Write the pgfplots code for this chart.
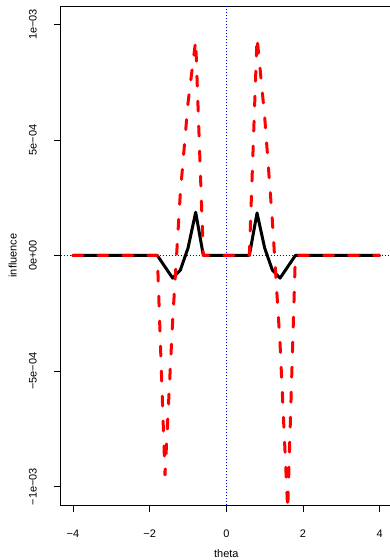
\documentclass[border=0pt]{standalone}
\usepackage{pgfplots}
\pgfplotsset{compat=1.18}
\usepackage{fontspec}
\setmainfont{Liberation Sans}
\begin{document}
\begin{tikzpicture}
\begin{axis}[
  scale only axis, width=331.3bp, height=499bp,
  xmin=-4.32, xmax=4.32, ymin=-0.00108, ymax=0.00108,
  axis line style={line width=0.8bp, black},
  xtick={-4,-2,0,2,4},
  xticklabels={−4,−2,0,2,4},
  ytick={-0.001,-0.0005,0,0.0005,0.001},
  yticklabels={−1e−03,−5e−04,0e+00,5e−04,1e−03},
  scaled y ticks=false,
  tick align=outside, major tick length=7bp,
  tick style={line width=0.8bp, black},
  xtick pos=left, ytick pos=left,
  xticklabel style={anchor=north, inner sep=0pt, yshift=-17.7bp, font=\fontsize{11}{13}\selectfont},
  yticklabel style={xshift=-16.7bp, rotate=90, anchor=south, inner sep=0pt, font=\fontsize{11}{13}\selectfont},
  xlabel={theta}, ylabel={influence},
  xlabel style={at={(rel axis cs:0.5,-0.0982)}, anchor=center, inner sep=0pt, font=\fontsize{11}{13}\selectfont},
  ylabel style={at={(rel axis cs:-0.1449,0.5)}, anchor=center, inner sep=0pt, font=\fontsize{11}{13}\selectfont},
  clip=true,
]
\addplot[blue, line width=0.75bp, dash pattern=on 0.75bp off 2.25bp] coordinates {(-4.32,0) (4.32,0)};
\addplot[blue, line width=0.75bp, dash pattern=on 0.75bp off 2.25bp] coordinates {(0,-0.00108) (0,0.00108)};
\addplot[black, line width=3bp, line join=round, line cap=round] coordinates {
(-4,0) (-1.8,0) (-1.6,-0.000049) (-1.4,-0.000098) (-1.2,-0.000063) (-1.0,0.000032) (-0.8,0.000187) (-0.6,0)
(0.6,0) (0.8,0.000184) (1.0,0.000032) (1.2,-0.000063) (1.4,-0.000098) (1.6,-0.000049) (1.8,0) (4,0)};
\addplot[red, line width=3bp, line join=round, line cap=round, dash pattern=on 10bp off 15bp] coordinates {
(-4,0) (-1.8,0) (-1.6,-0.00095) (-1.4,-0.00028) (-1.2,0.00027) (-1.0,0.00066) (-0.8,0.00093) (-0.6,0)
(0.6,0) (0.8,0.000945) (1.0,0.00060) (1.2,0.00015) (1.4,-0.00038) (1.6,-0.0011) (1.8,0) (4,0)};
\coordinate (ll) at (rel axis cs:0,0);
\coordinate (ur) at (rel axis cs:1,1);
\end{axis}
\pgfresetboundingbox
\path ([xshift=-60.7bp,yshift=-55bp]ll) rectangle ([xshift=-2bp,yshift=6bp]ur);
\end{tikzpicture}
\end{document}
